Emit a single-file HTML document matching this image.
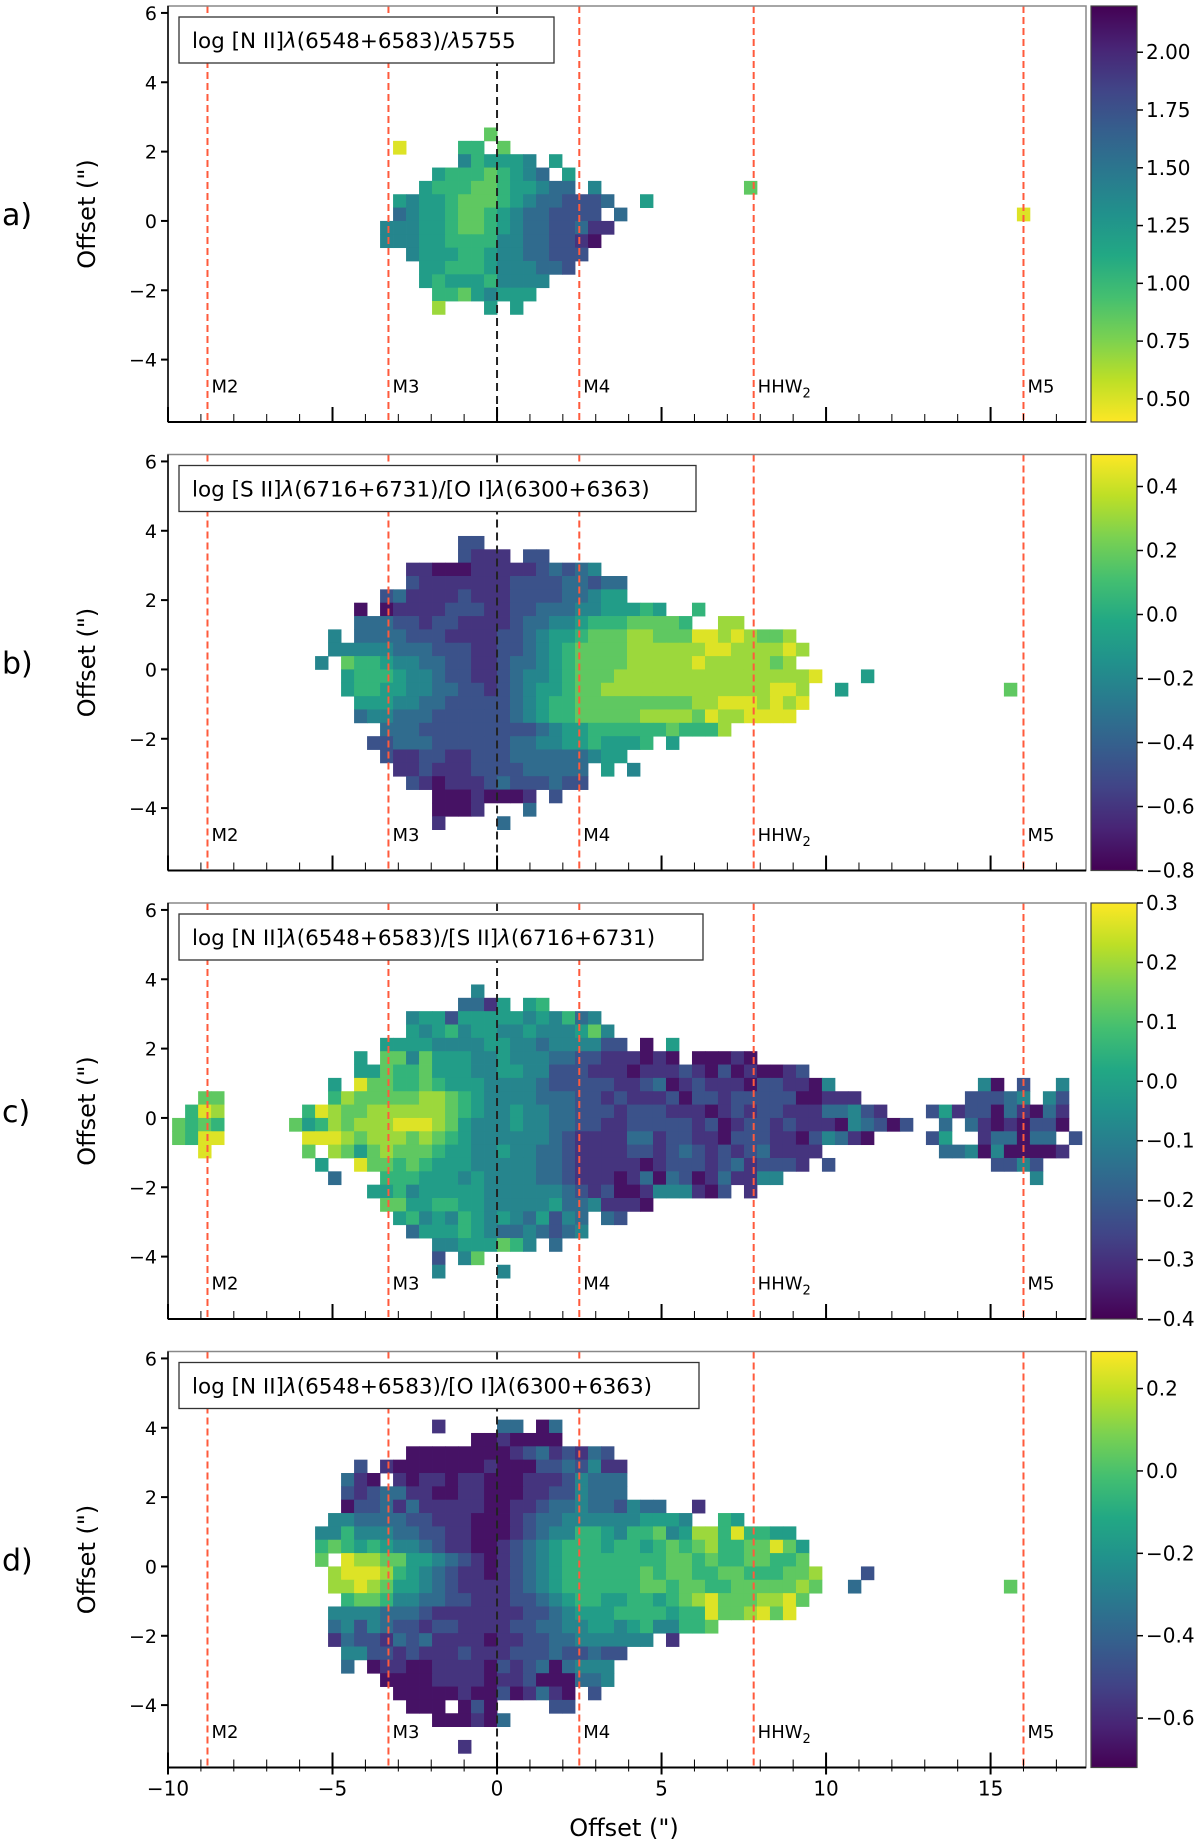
<!DOCTYPE html>
<html>
<head>
<meta charset="utf-8">
<style>
  html, body { margin: 0; padding: 0; background: #fff; }
  svg { display: block; }
  text { font-family: "DejaVu Sans", "Liberation Sans", sans-serif; fill: #000; }
</style>
</head>
<body>
<svg id="fig" xmlns="http://www.w3.org/2000/svg" width="1200" height="1848" viewBox="0 0 1200 1848"></svg>
<script>
// ---------------- data ----------------
// Each panel's map is held as row strings: one char per 0.395" spatial bin,
// '0'..'9' = quantized level along the colour scale, '.' = no data.
const panelLetters = ["a)", "b)", "c)", "d)"];
const panelTitles = [
  ["log [N II]", "λ", "(6548+6583)/", "λ", "5755"],
  ["log [S II]", "λ", "(6716+6731)/[O I]", "λ", "(6300+6363)"],
  ["log [N II]", "λ", "(6548+6583)/[S II]", "λ", "(6716+6731)"],
  ["log [N II]", "λ", "(6548+6583)/[O I]", "λ", "(6300+6363)"]
];
const vmins = [0.40, -0.80, -0.40, -0.72];
const vmaxs = [2.20, 0.50, 0.30, 0.29];
const reversedCmap = [true, false, false, false];
const cbarTicksA = [2.00, 1.75, 1.50, 1.25, 1.00, 0.75, 0.50];
const cbarTicksB = [0.4, 0.2, 0.0, -0.2, -0.4, -0.6, -0.8];
const cbarTicksC = [0.3, 0.2, 0.1, 0.0, -0.1, -0.2, -0.3, -0.4];
const cbarTicksD = [0.2, 0.0, -0.2, -0.4, -0.6];
const cbarDecimals = [2, 1, 1, 1];
const markerNames = ["M2", "M3", "M4", "HHW", "M5"];
const markerPositions = [-8.8, -3.3, 2.5, 7.8, 16.0];
const yTicks = [-4, -2, 0, 2, 4, 6];
const xTicks = [-10, -5, 0, 5, 10, 15];
const startKs = [-10, -14, -25, -14];
const topJs = [7, 10, 10, 11];

const rowsA = [
  ".........7",
  "..9....66.7",
  ".......465554.5",
  ".....566676543.5",
  "....566677655433.4...........7",
  "..54556777654332223..5",
  "..3455677654332222.3..............................9",
  ".444556776543322311",
  ".44455666644332210",
  "...45556654433222",
  "....556665444332",
  "....5655564444",
  ".....66754555",
  ".....8...5.5"
];
const rowsB = [
  "...........22",
  "...........2111.22",
  ".......110001111123234",
  ".......21111111222233233",
  ".....2311112111222233455",
  "...0.0111122211223334455565..6",
  "...33322122111123344566677776..88",
  ".4.3333222111122345567778877799898778",
  ".4444433322211223456777788888899888898",
  "4.76654433221123345677778888898888878",
  "..5666544322112344567778888888888888889...5",
  "..566554433221234556778888888888888998..5............7",
  "...55544332222234566777777777889998989",
  "...3443332222223456677777888879889999",
  ".....333222222222345566666676668",
  "....2233322222233445565556.5",
  ".....2112211222333333455",
  "......112111222233333.5.4",
  ".......21011123222322",
  ".........00010001.2",
  ".........0001...3",
  ".........1....3"
];
const rowsC = [
  ".......................4",
  "......................3315.56",
  "..................455255555454634",
  "..................5456455445444574",
  "................555544445" + "5443444422.0.5",
  ".............." + "5." + "77475554454443322" + "111010.00010",
  ".............." + "5576675554455442221" + "1101112102010012",
  "............" + "5." + "9776676555444432222" + "211230121110221104" + "..........." + "40.2..4",
  "..77........" + "687777788765444433322" + "12111202212222200111" + "........" + "22234.42",
  ".698......" + "69877888888765445443322" + "2122211101212211133421" + "..." + "25122031031",
  "7676....." + "756878889998754445443322" + "112222212012212111043202" + ".." + "3.31010220",
  "7699......" + "99987888787654444443211" + "113312211022211024310" + "...." + "25..133033.2",
  "..9......." + "7." + "875787776554454433211" + "11221232121231111" + "........." + "3340400001",
  "..........." + "5.." + "9776765554444433211" + "1110122212312221" + ".2" + "............" + "2242",
  "............" + "3..." + "66655545444433211" + "10130320131144" + "..................." + "4",
  "..............." + "556455555444444321" + "2001444102.1",
  "................" + "77556655444445334" + "1110",
  "................." + "564546545435243" + ".32",
  ".................." + "35556543343234",
  "...................." + "44555764.3",
  "...................." + "2.47",
  "...................." + "4....4"
];
const rowsD = [
  ".........1....33.03",
  "............0010000",
  ".......0000000012312132",
  "...2." + "10000000100022324" + "11",
  ".." + "310.1011011000111243" + "33",
  ".." + "21233110011000112243" + "33",
  ".." + "02231311111001123343" + "32433..1",
  "." + "443333221110001233444" + "4445554..65",
  "4464443322110001234466" + "546674588696655",
  "6765654432110012345666" + "5665676786677975",
  "7." + "98877554321012345666" + "6666677676677667",
  "." + "899986543211012345666" + "66676776677666778" + "..." + "2",
  "." + "889875543211112345666" + "66677677667777787" + "..3" + "..........." + "7",
  ".." + "67764433221112234566" + "5566567897778897",
  "." + "444433321111111223455" + "566665669778979",
  "." + "342432212211112233445" + "545644667",
  "." + "132213231111011223344" + "4444.1",
  ".." + "44221211121112223223" + "22",
  "..3." + "011001111021230344" + "4",
  "....." + "00001111011200033" + "4",
  "......" + "00000100201310" + ".2",
  "......." + "000.020" + "...." + "22",
  "........." + "000103",
  "",
  "..........." + "1"
];
const panelRows = [rowsA, rowsB, rowsC, rowsD];
const cbarTicks = [cbarTicksA, cbarTicksB, cbarTicksC, cbarTicksD];

// ---------------- layout ----------------
const NS = "http://www.w3.org/2000/svg";
const svg = document.getElementById("fig");
const panelTops = [6, 454.5, 903, 1351.5];
const PH = 416, PL = 168, PR = 1086;
const XMIN = -10, XMAX = 17.9, YMIN = -5.8, YMAX = 6.2;
const DX = 0.395, DY = 0.385;
const CBL = 1091, CBW = 46;
const viridis = ["#440154","#482475","#414487","#355f8d","#2a788e","#21918c","#22a884","#44bf70","#7ad151","#bddf26","#fde725"];

function xScale(v) { return PL + (v - XMIN) / (XMAX - XMIN) * (PR - PL); }
function yScale(v, top) { return top + (YMAX - v) / (YMAX - YMIN) * PH; }
function hex2rgb(h) { return [parseInt(h.substr(1,2),16), parseInt(h.substr(3,2),16), parseInt(h.substr(5,2),16)]; }
function cmap(t) {
  t = Math.max(0, Math.min(1, t));
  const p = t * 10, i = Math.min(9, Math.floor(p)), f = p - i;
  const a = hex2rgb(viridis[i]), b = hex2rgb(viridis[i+1]);
  return "rgb(" + a.map((c, n) => Math.round(c + (b[n]-c)*f)).join(",") + ")";
}
function levelToValue(d, p) {
  const t = (d + 0.5) / 10;
  return reversedCmap[p] ? vmaxs[p] - t*(vmaxs[p]-vmins[p]) : vmins[p] + t*(vmaxs[p]-vmins[p]);
}
function valueToColor(v, p) {
  let t = (v - vmins[p]) / (vmaxs[p] - vmins[p]);
  if (reversedCmap[p]) t = 1 - t;
  return cmap(t);
}
function mk(tag, attrs, parent) {
  const e = document.createElementNS(NS, tag);
  for (const k in attrs) e.setAttribute(k, attrs[k]);
  (parent || svg).appendChild(e);
  return e;
}
function fmt(v, dec) {
  const s = Math.abs(v).toFixed(dec);
  return (v < -1e-9 ? "\u2212" : "") + s;
}

// gradients: "up" = yellow at top, "down" = purple at top
const defs = mk("defs", {});
["cbar-grad-up", "cbar-grad-down"].forEach((id, gi) => {
  const g = mk("linearGradient", {id: id, x1: 0, y1: 1, x2: 0, y2: 0}, defs);
  for (let i = 0; i <= 10; i++) {
    const c = gi === 0 ? viridis[i] : viridis[10 - i];
    mk("stop", {offset: i/10, "stop-color": c}, g);
  }
});

for (let p = 0; p < 4; p++) {
  const top = panelTops[p], bot = top + PH;
  const grp = mk("g", {});
  
  

  mk("rect", {x: PL, y: top, width: PR-PL, height: PH, fill: "#fff"}, grp);

  const hm = mk("g", {}, grp);
  
  
  const rows = panelRows[p];
  rows.forEach((row, r) => {
    const j = topJs[p] - r;
    const yTopV = j * DY, yBotV = (j - 1) * DY;
    for (let i = 0; i < row.length; i++) {
      const ch = row[i];
      if (ch < "0" || ch > "9") continue;
      const k = startKs[p] + i;
      const value = levelToValue(+ch, p);
      const x0 = xScale(k * DX), x1 = xScale((k + 1) * DX);
      const y0 = yScale(yTopV, top), y1 = yScale(yBotV, top);
      const cell = mk("rect", {x: x0.toFixed(2), y: y0.toFixed(2), width: (x1-x0+0.4).toFixed(2), height: (y1-y0+0.4).toFixed(2), fill: valueToColor(value, p)}, hm);
      
      
    }
  });

  markerPositions.forEach((mx, mi) => {
    const x = xScale(mx);
    const ln = mk("line", {x1: x, y1: top, x2: x, y2: bot, stroke: "#ff5a3c", "stroke-width": 2, "stroke-dasharray": "7,4"}, grp);
    
    
    const t = mk("text", {x: x + 4, y: yScale(-4.75, top) + 7, "font-size": 18}, grp);
    
    
    t.textContent = markerNames[mi];
    if (markerNames[mi] === "HHW") {
      const s = mk("tspan", {"font-size": 13, dy: 5}, t);
      s.textContent = "2";
    }
  });
  const z = xScale(0);
  const zl = mk("line", {x1: z, y1: top, x2: z, y2: bot, stroke: "#222", "stroke-width": 2, "stroke-dasharray": "8,5"}, grp);
  
  

  mk("rect", {x: PL, y: top, width: PR-PL, height: PH, fill: "none", stroke: "#888", "stroke-width": 1.5}, grp);
  mk("line", {x1: PL, y1: top, x2: PL, y2: bot, stroke: "#000", "stroke-width": 1.5}, grp);
  const xa = mk("line", {x1: PL, y1: bot, x2: PR, y2: bot, stroke: "#000", "stroke-width": 2}, grp);
  
  

  for (let v = -10; v <= 17; v++) {
    const major = v % 5 === 0;
    const x = xScale(v);
    const len = major ? 15 : 8;
    const down = p === 3 ? (major ? 7 : 4) : 0;
    mk("line", {x1: x, y1: bot - len, x2: x, y2: bot + down, stroke: "#000", "stroke-width": major ? 2 : 1}, grp);
  }
  if (p === 3) {
    xTicks.forEach(v => {
      const t = mk("text", {x: xScale(v), y: bot + 28, "font-size": 20, "text-anchor": "middle"}, grp);
      
      
      t.textContent = fmt(v, 0);
    });
  }

  yTicks.forEach(v => {
    const y = yScale(v, top);
    mk("line", {x1: PL - 7, y1: y, x2: PL, y2: y, stroke: "#000", "stroke-width": 2}, grp);
    const t = mk("text", {x: 157, y: y + 7, "font-size": 19, "text-anchor": "end"}, grp);
    
    
    t.textContent = fmt(v, 0);
  });

  const yc = top + PH/2;
  const yl = mk("text", {x: 0, y: 0, "font-size": 24, "text-anchor": "middle", transform: "translate(95," + yc + ") rotate(-90)"}, grp);
  
  
  yl.textContent = 'Offset (")';

  const pl = mk("text", {x: 2, y: yc + 11, "font-size": 30}, grp);
  
  
  pl.textContent = panelLetters[p];

  const boxW = [375, 517, 524, 520][p];
  const lb = mk("rect", {x: 179, y: top + 11, width: boxW, height: 46, fill: "#fff", stroke: "#333", "stroke-width": 1.3}, grp);
  
  
  const lt = mk("text", {x: 192, y: top + 42, "font-size": 21.5}, grp);
  
  
  panelTitles[p].forEach(part => {
    const s = mk("tspan", part === "λ" ? {"font-style": "italic"} : {}, lt);
    s.textContent = part;
  });

  const cb = mk("rect", {x: CBL, y: top, width: CBW, height: PH, fill: reversedCmap[p] ? "url(#cbar-grad-down)" : "url(#cbar-grad-up)", stroke: "#444", "stroke-width": 1.2}, grp);
  
  
  cbarTicks[p].forEach(v => {
    const y = top + (vmaxs[p] - v) / (vmaxs[p] - vmins[p]) * PH;
    mk("line", {x1: CBL + CBW, y1: y, x2: CBL + CBW + 6, y2: y, stroke: "#000", "stroke-width": 1.5}, grp);
    const t = mk("text", {x: CBL + CBW + 9, y: y + 7, "font-size": 20}, grp);
    
    
    t.textContent = fmt(v, cbarDecimals[p]);
  });
}

const xl = mk("text", {x: 624, y: 1836, "font-size": 24, "text-anchor": "middle"});


xl.textContent = 'Offset (")';
</script>
</body>
</html>
